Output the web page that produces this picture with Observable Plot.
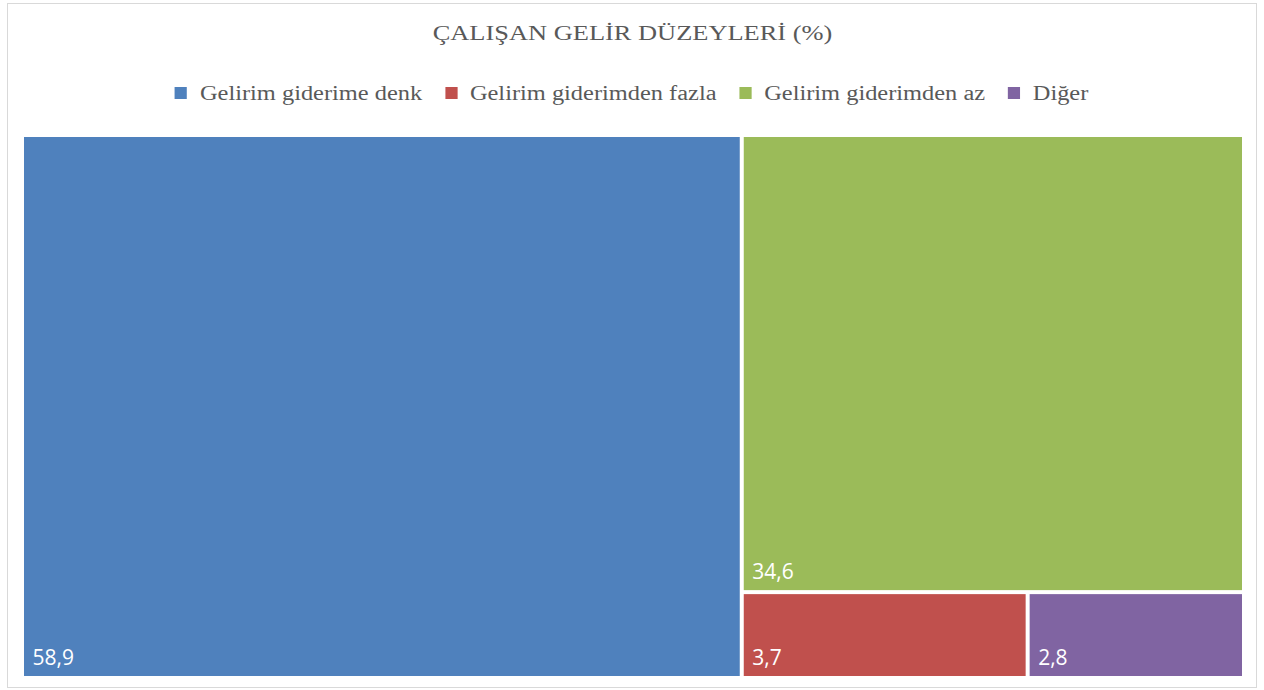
<!DOCTYPE html>
<html>
<head>
<meta charset="utf-8">
<script src="https://cdn.jsdelivr.net/npm/d3@7"></script>
<script src="https://cdn.jsdelivr.net/npm/@observablehq/plot@0.6"></script>
<style>
  html, body { margin: 0; padding: 0; background: #fff; }
  #frame { position: absolute; left: 7px; top: 3px; width: 1250px; height: 685px; border: 1px solid #d9d9d9; box-sizing: border-box; }
  #title { position: absolute; left: 0; top: 22px; width: 1264px; text-align: center; font-family: "Liberation Serif", serif; font-size: 22px; line-height: 22px; color: #595959; }
  #title span { display: inline-block; transform: scaleX(1.2); transform-origin: center; white-space: nowrap; }
  #legendWrap { position: absolute; left: 0; top: 83px; width: 1264px; display: flex; justify-content: center; }
  #legend { display: flex; transform: scaleX(1.22); transform-origin: center; font-family: "Liberation Serif", serif; font-size: 20px; line-height: 20px; color: #595959; white-space: nowrap; }
  .item { display: flex; align-items: center; margin: 0 9.3px; }
  .sw { width: 10px; height: 12px; margin-right: 10.5px; }
  #chart { position: absolute; left: 22px; top: 135px; }
</style>
</head>
<body>
<div id="frame"></div>
<div id="title"><span>ÇALIŞAN GELİR DÜZEYLERİ (%)</span></div>
<div id="legendWrap"><div id="legend"></div></div>
<div id="chart"></div>
<script>
const categories = ["Gelirim giderime denk", "Gelirim giderimden fazla", "Gelirim giderimden az", "Diğer"];
const values = [58.9, 3.7, 34.6, 2.8];
const colors = ["#4F81BD", "#C0504D", "#9BBB59", "#8064A2"];

// Legend
const legend = document.getElementById("legend");
categories.forEach((c, i) => {
  const it = document.createElement("div");
  it.className = "item";
  it.innerHTML = `<span class="sw" style="background:${colors[i]}"></span><span>${c}</span>`;
  legend.appendChild(it);
});

// Hierarchy mirroring the Excel treemap nesting
const leaf = i => ({name: categories[i], value: values[i], color: colors[i]});
const tree = {name: "root", children: [
  leaf(0),
  {name: "g1", children: [
    leaf(2),
    {name: "g2", children: [leaf(1), leaf(3)]}
  ]}
]};
const root = d3.hierarchy(tree).sum(d => d.value || 0);
d3.treemap().tile(d3.treemapSliceDice).size([1, 1]).padding(0)(root);
const cells = root.leaves().map(d => ({
  name: d.data.name, value: d.data.value, color: d.data.color,
  x0: d.x0, x1: d.x1, y0: d.y0, y1: d.y1
}));

const W = 1222, H = 543;
const chart = Plot.plot({
  width: W, height: H,
  margin: 0,
  x: {domain: [0, 1], range: [0, W], axis: null},
  y: {domain: [0, 1], range: [0, H], axis: null},
  marks: [
    Plot.rect(cells, {x1: "x0", x2: "x1", y1: "y0", y2: "y1", fill: "color", inset: 2}),
    Plot.text(cells, {
      x: "x0", y: "y1",
      text: d => String(d.value).replace(".", ","),
      textAnchor: "start", lineAnchor: "bottom",
      dx: 10, dy: -14,
      fill: "white", fontSize: 21,
      fontFamily: "'Open Sans', 'Noto Sans', sans-serif"
    })
  ]
});
document.getElementById("chart").appendChild(chart);
</script>
</body>
</html>
